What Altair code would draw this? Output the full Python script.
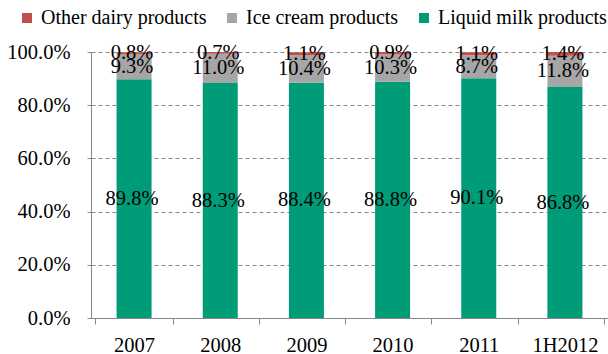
import altair as alt
import pandas as pd

years = ["2007", "2008", "2009", "2010", "2011", "1H2012"]
liquid_milk = [89.8, 88.3, 88.4, 88.8, 90.1, 86.8]
ice_cream = [9.3, 11.0, 10.4, 10.3, 8.7, 11.8]
other_dairy = [0.8, 0.7, 1.1, 0.9, 1.1, 1.4]

series = ["Other dairy products", "Ice cream products", "Liquid milk products"]
colors = ["#C0504D", "#A6A6A6", "#009B77"]
stack_order = {"Liquid milk products": 0, "Ice cream products": 1, "Other dairy products": 2}

rows = []
for i, y in enumerate(years):
    for name, vals in [("Liquid milk products", liquid_milk),
                       ("Ice cream products", ice_cream),
                       ("Other dairy products", other_dairy)]:
        rows.append({"year": y, "series": name, "value": vals[i] / 100.0,
                     "ord": stack_order[name]})
df = pd.DataFrame(rows)

FONT = "Liberation Serif, Times New Roman, serif"
FS = 20.5

base = alt.Chart(df).transform_stack(
    stack="value", groupby=["year"], as_=["v0", "v1"],
    sort=[alt.SortField("ord", order="ascending")]
).transform_calculate(
    mid="(datum.v0 + datum.v1) / 2"
)

yaxis = alt.Axis(format=".1%", values=[0, 0.2, 0.4, 0.6, 0.8, 1.0],
                 labelFont=FONT, labelFontSize=FS, labelColor="black",
                 domainColor="#888888", tickColor="#888888", tickSize=6,
                 tickDash=[4, 3], grid=True, gridColor="#888888",
                 gridDash=[4, 3], gridWidth=1, labelPadding=15)

bars = base.mark_bar(size=35).encode(
    x=alt.X("year:N", sort=years, title=None,
            axis=alt.Axis(labelAngle=0, labelFont=FONT, labelFontSize=FS,
                          labelColor="black", domainColor="#888888",
                          tickColor="#888888", tickSize=6, tickBand="extent",
                          labelPadding=11)),
    y=alt.Y("v0:Q", title=None, scale=alt.Scale(domain=[0, 1]), axis=yaxis),
    y2="v1:Q",
    color=alt.Color("series:N", scale=alt.Scale(domain=series, range=colors),
                    title=None,
                    legend=alt.Legend(orient="none", direction="horizontal",
                                      legendX=-74, legendY=-44,
                                      symbolType="square", symbolSize=100,
                                      symbolStrokeWidth=0, symbolOpacity=1,
                                      labelFont=FONT, labelFontSize=20,
                                      labelColor="black", labelOffset=4,
                                      labelLimit=0, columnPadding=15)),
)

labels = base.mark_text(font=FONT, fontSize=FS, color="black", dx=-2).encode(
    x=alt.X("year:N", sort=years),
    y=alt.Y("mid:Q", axis=yaxis),
    text=alt.Text("value:Q", format=".1%"),
)

chart = alt.layer(bars, labels).properties(
    width=517, height=266,
    autosize=alt.AutoSizeParams(type="none"),
    padding={"left": 91, "top": 52, "right": 0, "bottom": 36},
).configure(font=FONT).configure_view(stroke=None).configure_axis(
    gridOpacity=1, labelFont=FONT
).configure_legend(labelFont=FONT, labelLimit=0)

chart.save("out.html", embed_options={"renderer": "svg", "actions": False})
